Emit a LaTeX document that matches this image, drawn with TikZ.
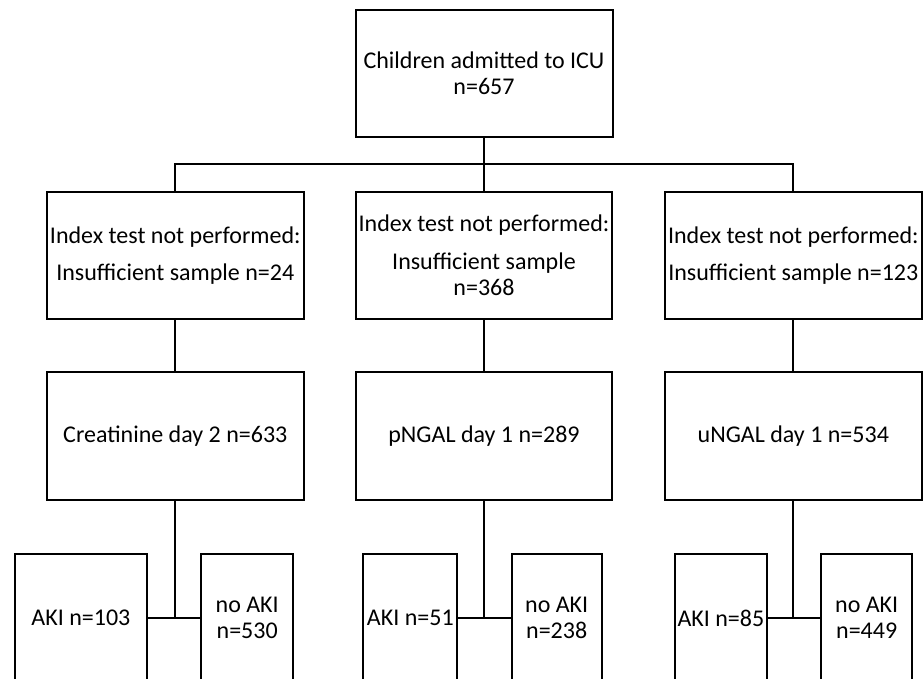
\documentclass[tikz,border=0pt]{standalone}
\usepackage{fontspec}
\setmainfont{Carlito}
\begin{document}
\begin{tikzpicture}[x=1pt,y=-1pt,
  box/.style={draw=black,line width=2pt,rectangle,inner sep=0pt,align=center,
    font=\fontsize{24}{26.5}\selectfont},
  link/.style={draw=black,line width=2pt}]
\useasboundingbox (0,0) rectangle (924,679);
\fill[white] (0,0) rectangle (924,679);
\clip (0,0) rectangle (924,679);
% top
\node[box,minimum width=257pt,minimum height=127.5pt] (top) at (484,73.3) {Children admitted to ICU\\n=657};
% row 2
\node[box,minimum width=256.5pt,minimum height=127.6pt] (b1) at (175.3,255.5) {Index test not performed:\\[11pt]Insufficient sample n=24};
\node[box,minimum width=255.7pt,minimum height=127.6pt] (b2) at (484,255.5) {Index test not performed:\\[10.8pt]Insufficient sample\\n=368};
\node[box,minimum width=256.4pt,minimum height=127.6pt] (b3) at (793.3,255.5) {Index test not performed:\\[11pt]Insufficient sample n=123};
% row 3
\node[box,minimum width=256.5pt,minimum height=128.3pt] (c1) at (175.3,435.8) {Creatinine day 2 n=633};
\node[box,minimum width=255.7pt,minimum height=128.3pt] (c2) at (484,435.8) {pNGAL day 1 n=289};
\node[box,minimum width=256.4pt,minimum height=128.3pt] (c3) at (793.3,435.8) {uNGAL day 1 n=534};
% row 4
\node[box,minimum width=131.7pt,minimum height=128pt] (a1) at (80.9,618) {AKI n=103};
\node[box,minimum width=92.3pt,minimum height=128pt] (n1) at (247.2,618) {no AKI\\n=530};
\node[box,minimum width=94pt,minimum height=128pt] (a2) at (410.3,618) {AKI n=51};
\node[box,minimum width=90pt,minimum height=128pt] (n2) at (556.7,618) {no AKI\\n=238};
\node[box,minimum width=91.7pt,minimum height=128pt] (a3) at (720.9,618) {AKI n=85};
\node[box,minimum width=91.3pt,minimum height=128pt] (n3) at (866.7,618) {no AKI\\n=449};
% connectors
\coordinate (j) at (484,164);
\draw[link] (top.south) -- (j);
\draw[link] (j) -| (b1.north);
\draw[link] (j) -| (b3.north);
\draw[link] (j) -- (b2.north);
\draw[link] (b1) -- (c1);
\draw[link] (b2) -- (c2);
\draw[link] (b3) -- (c3);
\draw[link] (a1.east) -- (n1.west);
\draw[link] (a2.east) -- (n2.west);
\draw[link] (a3.east) -- (n3.west);
\draw[link] (c1.south) -- (c1.south |- a1.east);
\draw[link] (c2.south) -- (c2.south |- a2.east);
\draw[link] (c3.south) -- (c3.south |- a3.east);
\end{tikzpicture}
\end{document}
